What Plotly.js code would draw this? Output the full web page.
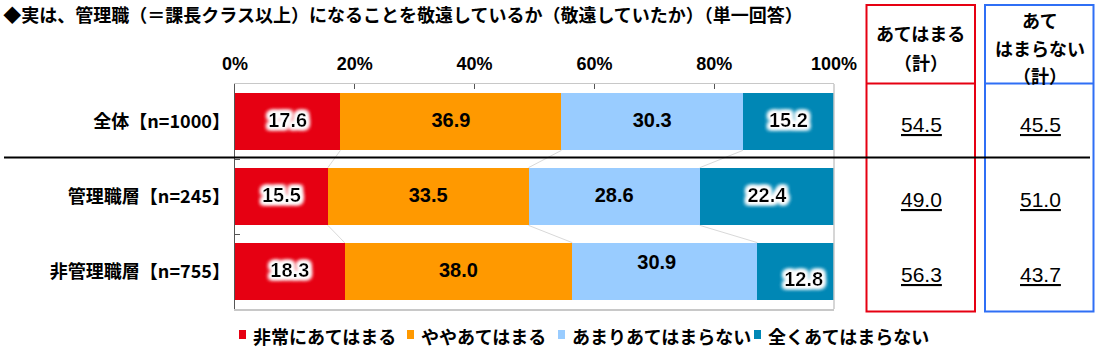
<!DOCTYPE html>
<html>
<head>
<meta charset="utf-8">
<script src="https://cdn.plot.ly/plotly-3.0.1.min.js"></script>
<style>html,body{margin:0;padding:0;background:#fff;}#chart{width:1096px;height:355px;}</style>
</head>
<body>
<svg width="0" height="0" style="position:absolute">
  <defs>
    <filter id="glow" x="-40%" y="-60%" width="180%" height="220%">
      <feMorphology in="SourceAlpha" operator="dilate" radius="2.2" result="d"/>
      <feGaussianBlur in="d" stdDeviation="2" result="b"/>
      <feFlood flood-color="#ffffff"/>
      <feComposite in2="b" operator="in" result="g"/>
      <feMerge><feMergeNode in="g"/><feMergeNode in="g"/><feMergeNode in="g"/><feMergeNode in="SourceGraphic"/></feMerge>
    </filter>
  </defs>
</svg>
<div id="chart"></div>
<script>
// ---- data ----
const categories = ['全体【n=1000】', '管理職層【n=245】', '非管理職層【n=755】'];
const seriesNames = ['非常にあてはまる', 'ややあてはまる', 'あまりあてはまらない', '全くあてはまらない'];
const verySeries = [17.6, 15.5, 18.3];
const somewhatSeries = [36.9, 33.5, 38.0];
const notMuchSeries = [30.3, 28.6, 30.9];
const notAtAllSeries = [15.2, 22.4, 12.8];
const agreeTotal = ['54.5', '49.0', '56.3'];
const disagreeTotal = ['45.5', '51.0', '43.7'];
const tickValues = [0, 20, 40, 60, 80, 100];
const tickLabels = ['0%', '20%', '40%', '60%', '80%', '100%'];
const agreeHeader = ['あてはまる', '（計）'];
const disagreeHeader = ['あて', 'はまらない', '（計）'];

// ---- styling ----
const colors = ['#E60012', '#FF9900', '#99CCFF', '#0087B5'];
const JP = '"Noto Sans CJK JP", "Noto Sans", sans-serif';
const NUM = '"Liberation Sans", Arial, sans-serif';
const series = [verySeries, somewhatSeries, notMuchSeries, notAtAllSeries];

const traces = series.map((vals, i) => ({
  type: 'bar', orientation: 'h', name: seriesNames[i],
  y: categories, x: vals,
  marker: {color: colors[i], line: {width: 0}},
  hoverinfo: 'skip', showlegend: false
}));

// segment labels as text traces on an overlaid numeric axis (same positions as categories)
const PXX = 599 / 100, PXY = 75; // px per x unit, px per category
const labelShift = {'2-2': {dx: -8, dy: -8}, '2-3': {dx: 8, dy: 9}};
const lab = {dark: {x: [], y: [], t: []}, light: {x: [], y: [], t: []}};
categories.forEach((cat, r) => {
  let start = 0;
  series.forEach((vals, s) => {
    const v = vals[r];
    const sh = labelShift[r + '-' + s] || {dx: 0, dy: 0};
    const g = (s === 0 || s === 3) ? lab.dark : lab.light;
    g.x.push(start + v / 2 + sh.dx / PXX);
    g.y.push(r + sh.dy / PXY);
    g.t.push(v.toFixed(1));
    start += v;
  });
});
['dark', 'light'].forEach(k => {
  traces.push({type: 'scatter', mode: 'text', x: lab[k].x, y: lab[k].y, text: lab[k].t, yaxis: 'y2',
    textposition: 'middle center', cliponaxis: false, hoverinfo: 'skip', showlegend: false,
    textfont: {family: NUM, size: 20, color: '#000', weight: 700}});
});

const annotations = [];
const shapes = [];
const barW = 0.77;

// faint connector lines between bars
for (let r = 0; r < categories.length - 1; r++) {
  let c1 = 0, c2 = 0;
  for (let s = 0; s < series.length - 1; s++) {
    c1 += series[s][r]; c2 += series[s][r + 1];
    shapes.push({type: 'line', xref: 'x', yref: 'y', x0: c1, y0: r + barW / 2, x1: c2, y1: r + 1 - barW / 2,
      line: {color: '#D9D9D9', width: 1}, layer: 'below'});
  }
}

// right edge of plot
shapes.push({type: 'line', xref: 'paper', yref: 'paper', x0: 1, x1: 1, y0: 0, y1: 1, line: {color: '#C8C8C8', width: 1.5}});

// geometry helpers for the side tables (paper units)
const L = 235, R = 834, T = 84, B = 309;
const px = v => (v - L) / (R - L);
const py = v => (B - v) / (B - T);

// separator line
shapes.push({type: 'line', xref: 'paper', yref: 'paper', x0: px(4), x1: px(1090), y0: py(157.5), y1: py(157.5),
  line: {color: '#000', width: 2}, layer: 'above'});

// side table boxes
const boxes = [{x0: 866.5, x1: 975, col: '#E60012'}, {x0: 985, x1: 1093.5, col: '#2F6FF5'}];
boxes.forEach(b => {
  shapes.push({type: 'rect', xref: 'paper', yref: 'paper', x0: px(b.x0), x1: px(b.x1), y0: py(5), y1: py(311.5),
    line: {color: b.col, width: 2}, fillcolor: 'rgba(0,0,0,0)', layer: 'below'});
  shapes.push({type: 'line', xref: 'paper', yref: 'paper', x0: px(b.x0), x1: px(b.x1), y0: py(83.5), y1: py(83.5),
    line: {color: b.col, width: 2}, layer: 'below'});
});

// headers
const hdrFont = {family: JP, size: 18, color: '#000', weight: 700};
const agreeY = [33, 62], disagreeY = [20, 48, 75];
agreeHeader.forEach((t, i) => annotations.push({xref: 'paper', yref: 'paper', x: px(920.5), y: py(agreeY[i]),
  text: t, showarrow: false, font: hdrFont, xanchor: 'center', yanchor: 'middle'}));
disagreeHeader.forEach((t, i) => annotations.push({xref: 'paper', yref: 'paper', x: px(1039.5), y: py(disagreeY[i]),
  text: t, showarrow: false, font: hdrFont, xanchor: 'center', yanchor: 'middle'}));

// totals
const totFont = {family: NUM, size: 21, color: '#000', lineposition: 'under'};
categories.forEach((cat, r) => {
  annotations.push({xref: 'paper', yref: 'y', x: px(921), y: r, yshift: -3, xanchor: 'center', yanchor: 'middle',
    text: agreeTotal[r], showarrow: false, font: totFont});
  annotations.push({xref: 'paper', yref: 'y', x: px(1040), y: r, yshift: -3, xanchor: 'center', yanchor: 'middle',
    text: disagreeTotal[r], showarrow: false, font: totFont});
});

// legend (marker squares + text)
const legX = [239, 407, 558, 754];
seriesNames.forEach((n, i) => {
  shapes.push({type: 'rect', xref: 'paper', yref: 'paper', x0: px(legX[i]), x1: px(legX[i] + 7), y0: py(339), y1: py(330),
    line: {width: 0}, fillcolor: colors[i]});
  annotations.push({xref: 'paper', yref: 'paper', x: px(legX[i] + 12), y: py(336), xanchor: 'left', yanchor: 'middle',
    text: n, showarrow: false, font: {family: JP, size: 18, color: '#000', weight: 700}});
});

const layout = {
  width: 1096, height: 355,
  margin: {l: L, r: 1096 - R, t: T, b: 355 - B, pad: 0},
  paper_bgcolor: '#fff', plot_bgcolor: '#fff',
  barmode: 'stack', bargap: 1 - barW,
  title: {text: '◆実は、管理職（＝課長クラス以上）になることを敬遠しているか（敬遠していたか）（単一回答）',
    x: 0.003, xanchor: 'left', xref: 'container', y: 1 - 15.5 / 355, yanchor: 'middle', yref: 'container',
    font: {family: JP, size: 18, color: '#000', weight: 700}},
  xaxis: {side: 'top', range: [0, 100], tickvals: tickValues, ticktext: tickLabels,
    showgrid: false, zeroline: false, showline: true, linecolor: '#C8C8C8', linewidth: 1.5, mirror: true,
    ticks: 'inside', ticklen: 5, tickcolor: '#555', tickwidth: 1, ticklabelstandoff: 5,
    tickfont: {family: NUM, size: 18, color: '#000', weight: 700}, fixedrange: true},
  yaxis: {type: 'category', categoryorder: 'array', categoryarray: categories, autorange: 'reversed',
    range: [2.5, -0.5], showgrid: false, zeroline: false, showline: true, linecolor: '#555', linewidth: 1.5,
    ticks: 'inside', tickson: 'boundaries', ticklen: 5, tickcolor: '#555', ticklabelstandoff: 0,
    tickfont: {family: JP, size: 18, color: '#000', weight: 700}, fixedrange: true},
  yaxis2: {overlaying: 'y', range: [2.5, -0.5], visible: false, fixedrange: true},
  shapes: shapes,
  annotations: annotations,
  showlegend: false
};

Plotly.newPlot('chart', traces, layout, {displayModeBar: false, staticPlot: true}).then(gd => {
  // white glow behind the labels that sit on the dark segments
  const textTraces = gd.querySelectorAll('.scatterlayer .trace');
  if (textTraces.length) {
    textTraces[0].querySelectorAll('text').forEach(t => t.setAttribute('filter', 'url(#glow)'));
  }
});
</script>
</body>
</html>
